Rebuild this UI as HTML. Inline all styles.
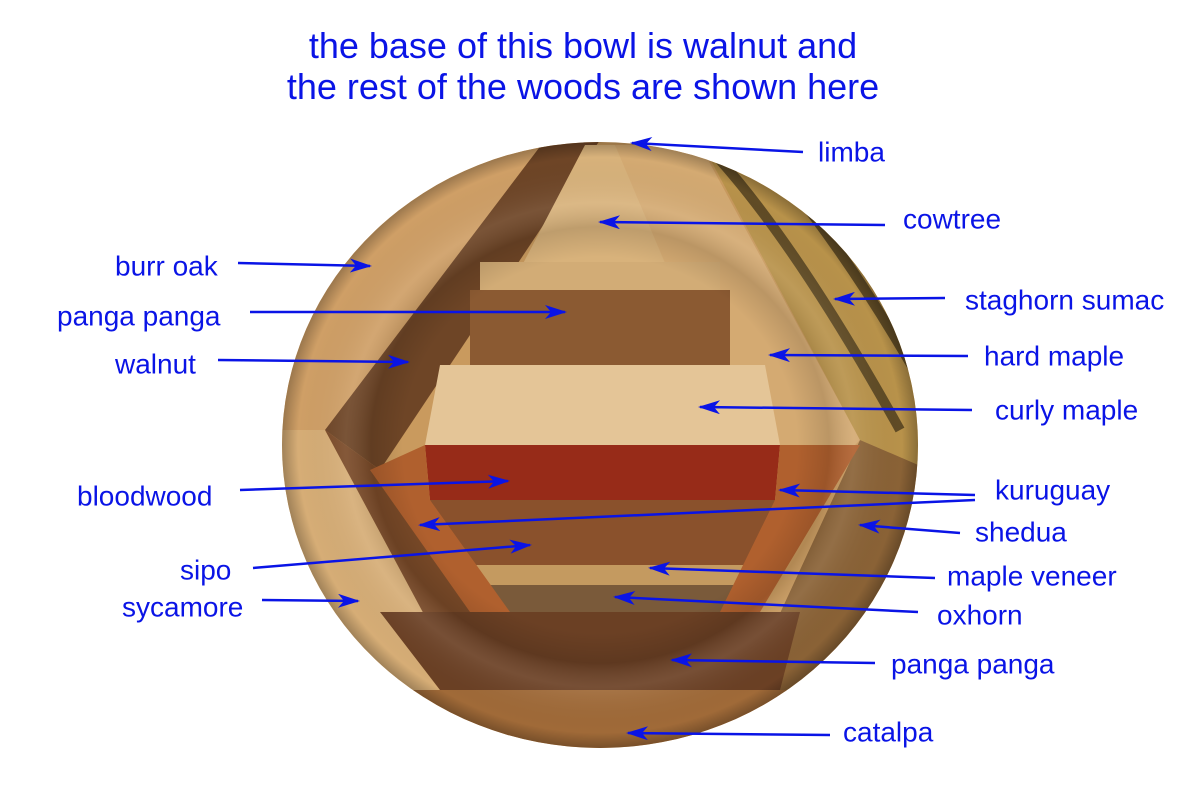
<!DOCTYPE html>
<html><head><meta charset="utf-8"><style>
html,body{margin:0;padding:0;background:#fff;}
svg{display:block;}
text{font-family:"Liberation Sans",Arial,sans-serif;fill:#0a14e6;}
</style></head><body>
<svg width="1200" height="788" viewBox="0 0 1200 788" xmlns="http://www.w3.org/2000/svg">
<defs>
<clipPath id="bowl"><ellipse cx="600" cy="445" rx="318" ry="303"/></clipPath>
<marker id="a" markerWidth="22" markerHeight="14" refX="20" refY="7" orient="auto" markerUnits="userSpaceOnUse">
<path d="M0,0 L22,7 L0,14 L6,7 Z" fill="#0a14e6"/>
</marker>
<radialGradient id="shade" cx="50%" cy="50%" r="50%">
<stop offset="0.62" stop-color="#000" stop-opacity="0"/>
<stop offset="0.72" stop-color="#000" stop-opacity="0.12"/>
<stop offset="0.8" stop-color="#fff" stop-opacity="0.08"/>
<stop offset="0.95" stop-color="#000" stop-opacity="0"/>
<stop offset="1" stop-color="#000" stop-opacity="0.25"/>
</radialGradient>
</defs>

<g clip-path="url(#bowl)">
<rect x="270" y="130" width="660" height="630" fill="#c99a5e"/>
<polygon points="270,130 560,130 330,430 270,430" fill="#cf9f66"/>
<polygon points="545,140 600,140 380,470 325,430" fill="#6e4526"/>
<polygon points="270,430 325,430 470,700 270,760" fill="#d6ad76"/>
<polygon points="325,430 380,470 500,612 470,700" fill="#7a4a28"/>
<polygon points="585,145 615,145 730,365 470,365" fill="#d8b27b"/>
<polygon points="615,145 700,145 860,440 830,470 740,440" fill="#d4aa72"/>
<polygon points="700,140 930,140 930,470 860,440" fill="#b8924a"/>
<g stroke="#4a3a1c" stroke-width="10" fill="none" opacity="0.8">
<path d="M720,160 Q800,250 900,430"/>
<path d="M760,150 Q840,240 920,380"/>
<path d="M800,150 Q870,220 930,320"/>
<path d="M860,160 Q900,210 930,260"/>
</g>
<polygon points="860,440 930,470 930,760 740,700" fill="#8a6236"/>
<rect x="480" y="262" width="240" height="30" fill="#d2ac76"/>
<polygon points="470,290 730,290 730,365 470,365" fill="#8b5a32"/>
<polygon points="440,365 765,365 780,445 425,445" fill="#e4c597"/>
<polygon points="425,445 780,445 775,500 430,500" fill="#972b18"/>
<polygon points="430,500 775,500 760,565 460,565" fill="#8a512c"/>
<polygon points="460,565 760,565 755,585 470,585" fill="#c49a60"/>
<polygon points="470,585 755,585 750,612 490,612" fill="#7a5a3a"/>
<polygon points="380,612 800,612 780,690 440,690" fill="#6b4024"/>
<rect x="270" y="690" width="660" height="80" fill="#a06a38"/>
<polygon points="425,445 430,500 510,612 470,612 370,470" fill="#b0602e"/>
<polygon points="780,445 860,445 760,612 720,612 775,500" fill="#b0602e"/>
<ellipse cx="600" cy="445" rx="318" ry="303" fill="url(#shade)"/>
</g>

<text x="583" y="58" font-size="36" text-anchor="middle">the base of this bowl is walnut and</text>
<text x="583" y="99" font-size="36" text-anchor="middle">the rest of the woods are shown here</text>

<g font-size="28" dominant-baseline="middle">
<text x="818" y="154">limba</text>
<text x="903" y="221">cowtree</text>
<text x="115" y="268">burr oak</text>
<text x="57" y="318">panga panga</text>
<text x="115" y="366">walnut</text>
<text x="965" y="302">staghorn sumac</text>
<text x="984" y="358">hard maple</text>
<text x="995" y="412">curly maple</text>
<text x="77" y="498">bloodwood</text>
<text x="995" y="492">kuruguay</text>
<text x="975" y="534">shedua</text>
<text x="180" y="572">sipo</text>
<text x="947" y="578">maple veneer</text>
<text x="122" y="609">sycamore</text>
<text x="937" y="617">oxhorn</text>
<text x="891" y="666">panga panga</text>
<text x="843" y="734">catalpa</text>
</g>

<g stroke="#0a14e6" stroke-width="2.5" fill="none" marker-end="url(#a)">
<line x1="803" y1="152" x2="632" y2="143"/>
<line x1="885" y1="225" x2="600" y2="222"/>
<line x1="238" y1="263" x2="370" y2="266"/>
<line x1="250" y1="312" x2="565" y2="312"/>
<line x1="218" y1="360" x2="408" y2="362"/>
<line x1="945" y1="298" x2="835" y2="299"/>
<line x1="968" y1="356" x2="770" y2="355"/>
<line x1="972" y1="410" x2="700" y2="407"/>
<line x1="240" y1="490" x2="508" y2="481"/>
<line x1="975" y1="495" x2="780" y2="490"/>
<line x1="975" y1="500" x2="420" y2="525"/>
<line x1="960" y1="533" x2="860" y2="525"/>
<line x1="253" y1="568" x2="530" y2="545"/>
<line x1="935" y1="578" x2="650" y2="568"/>
<line x1="262" y1="600" x2="358" y2="601"/>
<line x1="918" y1="612" x2="615" y2="597"/>
<line x1="875" y1="663" x2="672" y2="660"/>
<line x1="830" y1="735" x2="628" y2="733"/>
</g>
</svg>
</body></html>
